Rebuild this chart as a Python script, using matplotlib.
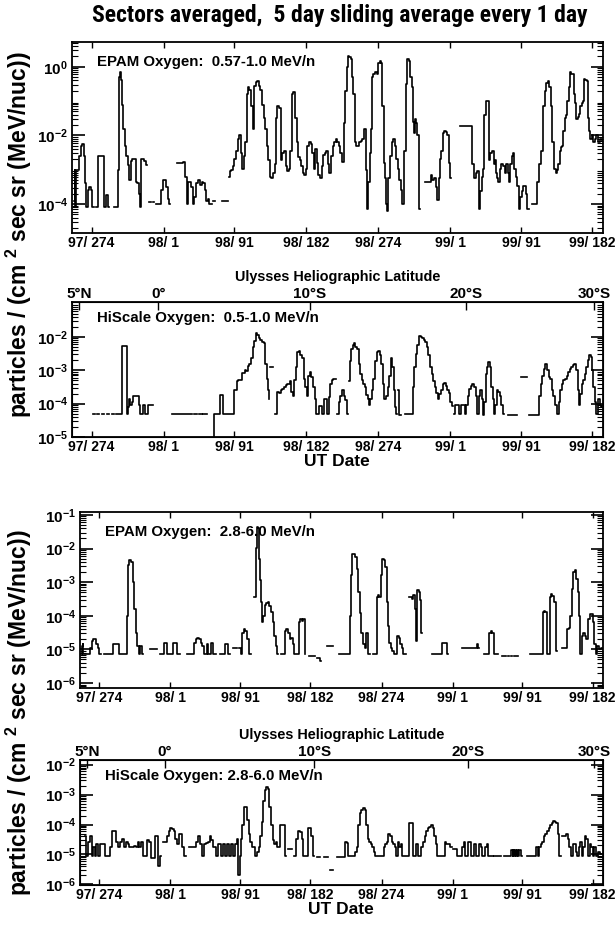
import numpy as np
import matplotlib
matplotlib.use('Agg')
import matplotlib.pyplot as plt
from matplotlib import font_manager
from matplotlib.ticker import LogLocator, NullFormatter

nan = np.nan

plt.rcParams['font.family'] = ['Liberation Sans', 'DejaVu Sans']
plt.rcParams['font.weight'] = 'bold'
plt.rcParams['mathtext.fontset'] = 'custom'
plt.rcParams['mathtext.bf'] = 'Liberation Sans:bold'
plt.rcParams['mathtext.rm'] = 'Liberation Sans:bold'
plt.rcParams['mathtext.default'] = 'bf'

# x axis: day counted from 1997 day 0 (97/274 -> 274, 98/1 -> 366 ...)
date_ticks = [274, 366, 456, 547, 639, 731, 821, 912]
date_labels = ['97/ 274', '98/ 1', '98/ 91', '98/ 182', '98/ 274', '99/ 1', '99/ 91', '99/ 182']
lat_ticks = [258, 359, 552, 751, 914]
lat_labels = ['5°N', '0°', '10°S', '20°S', '30°S']

# (day, log10 flux), nan = gap
epam_lo = [(252, -3.9), (253, -3.0), (254, -4.1), (255, -3.0), (257, -3.0), (259, -2.6), (261, -2.3),
           (263, -2.25), (265, -2.6), (267, -3.4), (268, -4.1), (270, -3.6), (272, -3.5), (274, -3.6),
           (276, -4.1), (277, nan), (281, -4.1), (283, -2.6), (286, -2.6), (289, -2.6), (291, -4.1),
           (293, -3.75), (295, -3.75), (296, -4.1), (297, nan), (307, -4.1), (308, -3.0), (309, -1.5),
           (310, -0.3), (311, -0.16), (312, -0.4), (313, -1.1), (315, -1.8), (317, -2.3), (319, -2.6),
           (321, -2.85), (323, -3.3), (325, -2.75), (327, -2.7), (329, -2.7), (331, -3.35), (333, -3.4),
           (335, -3.7), (336, -4.1), (338, -2.7), (340, -2.7), (342, -2.75), (344, -2.85), (345, nan),
           (348, -3.95), (351, nan), (353, -3.95), (355, nan), (356, -4.0), (358, -4.0), (360, -4.0),
           (362, -4.0), (364, -3.6), (366, -3.3), (368, -3.3), (370, -3.5), (372, -3.85), (374, -4.0),
           (375, nan), (390, -2.8), (392, -2.77), (394, -3.2), (396, -4.0), (398, -3.35), (400, -3.35),
           (402, -3.5), (404, -4.0), (406, -3.8), (409, -3.4), (411, -3.3), (413, -3.45), (415, -3.35),
           (417, -3.4), (419, -3.6), (421, -3.9), (423, -3.85), (425, -4.0), (427, -4.0), (428, nan),
           (430, -3.9), (432, nan), (447, -3.9), (448, nan), (449, -3.2), (451, -3.05), (453, -3.0),
           (455, -2.9), (457, -2.7), (459, -2.45), (461, -2.1), (463, -2.0), (465, -2.5), (467, -2.97),
           (469, -2.6), (471, -2.2), (473, -0.8), (474, -0.6), (476, -0.68), (478, -1.14), (480, -1.8),
           (482, -0.55), (484, -0.45), (486, -0.42), (488, -0.55), (490, -0.68), (492, -1.1), (494, -1.5),
           (496, -1.8), (498, -2.3), (500, -2.71), (502, -3.2), (504, -3.23), (506, -3.1), (508, -2.84),
           (510, -1.5), (511, -1.14), (514, -1.2), (516, -2.71), (518, -2.5), (520, -2.45), (522, -2.9),
           (524, -3.03), (526, -2.97), (528, -2.45), (530, -0.8), (532, -0.75), (534, -1.5), (536, -2.18),
           (538, -2.64), (540, -2.71), (542, -2.9), (544, -3.1), (546, -3.16), (548, -2.97), (550, -2.3),
           (552, -2.2), (554, -2.25), (556, -2.5), (558, -2.97), (560, -2.4), (562, -2.8), (564, -3.16),
           (566, -3.23), (568, -2.9), (570, -2.58), (572, -2.5), (574, -2.45), (576, -2.84), (578, -3.1),
           (580, -2.6), (582, -2.3), (584, -2.2), (586, -2.12), (588, -2.18), (590, -2.3), (592, -2.5),
           (594, -2.77), (596, -1.65), (598, -0.7), (600, 0.0), (601, 0.3), (603, 0.28), (605, 0.24),
           (607, -0.3), (608, -0.8), (610, -2.18), (612, -2.3), (614, -2.31), (616, -2.18), (618, -2.15),
           (620, -2.12), (622, -1.8), (624, -3.0), (625, -4.14), (627, -3.36), (629, -2.5), (630, -1.8),
           (632, -0.3), (634, -0.2), (636, -0.16), (638, -0.22), (640, 0.1), (642, 0.17), (643, 0.1),
           (645, -1.14), (647, -2.8), (648, -3.23), (650, -4.0), (651, -4.2), (653, -3.23), (655, -2.6),
           (657, -2.18), (659, -2.12), (661, -2.3), (663, -2.7), (665, -2.97), (667, -3.3), (669, -3.6),
           (671, -4.01), (673, -2.45), (675, -0.5), (677, 0.24), (679, 0.17), (681, -0.3), (682, -0.6),
           (684, -1.6), (685, -1.93), (686, -1.52), (688, -1.65), (690, -1.99), (692, -4.14), (693, nan),
           (705, -3.36), (707, -3.16), (709, -3.3), (712, -3.23), (714, -3.5), (715, -3.88), (717, -3.23),
           (719, -2.7), (720, -2.45), (722, -1.93), (724, -1.86), (726, -1.9), (728, -1.99), (730, -2.8),
           (731, -3.23), (732, nan), (755, -1.73), (758, -1.73), (760, -2.84), (762, -3.23), (764, -3.1),
           (766, -3.03), (768, -4.14), (770, -3.62), (772, -3.2), (773, -2.97), (775, -1.41), (777, -1.0),
           (779, -1.0), (781, -2.71), (783, -2.5), (785, -2.45), (787, -2.84), (788, -2.71), (790, -3.1),
           (791, -3.23), (793, -3.36), (795, -2.97), (797, -2.84), (799, -2.9), (801, -3.1), (803, -2.84),
           (805, -3.1), (806, -3.36), (808, -2.84), (810, -2.6), (811, -2.51), (813, -2.97), (815, -3.2),
           (817, -3.49), (819, -4.14), (821, -3.8), (823, -3.62), (825, -3.49), (827, -3.49), (828, -3.7),
           (830, -4.14), (831, nan), (840, -4.01), (842, -3.36), (845, -2.84), (848, -2.45), (850, -1.14),
           (852, -0.7), (854, -0.48), (856, -0.42), (858, -0.6), (860, -1.14), (862, -2.18), (864, -2.97),
           (866, -3.1), (867, -3.0), (869, -2.84), (871, -2.45), (873, -2.35), (874, -2.31), (876, -1.86),
           (878, -1.5), (879, -1.41), (881, -1.0), (883, -0.6), (884, -0.16), (886, -0.2), (887, -0.22),
           (889, -0.8), (890, -1.07), (892, -1.52), (894, -1.45), (895, -1.39), (897, -1.14), (899, -1.05),
           (900, -1.0), (902, -0.35), (904, -0.38), (905, -0.42), (907, -1.5), (908, -1.86), (910, -2.12),
           (912, -1.99), (914, -2.18), (916, -2.1), (918, -2.0), (920, -2.2), (922, -2.1), (925, -2.15)]

hiscale_lo = [(276, -4.32), (280, nan), (282, -4.32), (286, nan), (288, -4.32), (292, nan), (294, -4.32),
              (299, nan), (300, -4.32), (305, nan), (306, -4.32), (312, -4.32), (313, -2.28), (316, -2.28),
              (319, -2.28), (320, -4.3), (321, -4.1), (322, -3.86), (324, -4.04), (326, -3.95), (327, -3.77),
              (330, -3.77), (333, -3.77), (335, -4.04), (337, -4.3), (339, -4.3), (341, -4.04), (343, -4.3),
              (345, -4.3), (347, -4.04), (350, -4.04), (352, -4.04), (353, nan), (400, -4.32), (404, nan),
              (406, -4.32), (410, nan), (412, -4.32), (416, nan), (417, -4.32), (421, -4.32), (422, nan),
              (430, -5.2), (431, -4.32), (433, -4.32), (435, -4.32), (437, -4.32), (439, -3.73), (441, -3.73),
              (443, -4.3), (446, -4.3), (449, -4.3), (452, -4.3), (455, -4.3), (457, -3.6), (459, -3.6),
              (460, -3.33), (462, -3.3), (464, -3.29), (466, -3.07), (468, -3.07), (470, -2.98), (472, -3.03),
              (474, -2.88), (476, -2.81), (478, -2.63), (480, -2.3), (482, -2.11), (484, -1.89), (486, -1.95),
              (488, -2.02), (490, -2.1), (492, -2.15), (494, -2.19), (495, -2.28), (496, -2.81), (498, -3.25),
              (499, -3.6), (500, -3.86), (501, nan), (502, -2.91), (505, -2.91), (506, nan), (509, -4.3),
              (512, -3.64), (514, -3.67), (516, -3.6), (518, -3.55), (520, -3.51), (522, -3.45), (524, -3.42),
              (526, -3.4), (527, -3.32), (529, -3.64), (531, -3.77), (533, -3.3), (535, -2.89), (537, -2.46),
              (539, -2.41), (541, -2.55), (543, -2.63), (545, -3.25), (547, -3.51), (549, -3.77), (551, -3.16),
              (553, -3.05), (555, -3.2), (557, -3.5), (559, -3.86), (561, -4.3), (563, -4.3), (565, -4.08),
              (567, -4.08), (569, -4.3), (571, -3.86), (573, -3.86), (575, -4.3), (577, -3.8), (579, -3.42),
              (581, -3.29), (583, -3.25), (585, -3.25), (586, nan), (588, -4.3), (590, -3.95), (592, -3.77),
              (594, -3.6), (596, -3.77), (598, -3.9), (600, -4.3), (601, nan), (603, -3.33), (604, -2.72),
              (606, -2.37), (608, -2.25), (609, -2.19), (611, -2.3), (613, -2.37), (615, -2.81), (617, -3.1),
              (619, -3.3), (621, -3.42), (623, -3.51), (625, -3.73), (627, -3.86), (628, -4.04), (630, -3.86),
              (632, -3.6), (634, -3.25), (636, -2.72), (638, -2.46), (640, -2.41), (642, -2.55), (644, -2.81),
              (646, -3.42), (648, -3.86), (650, -3.77), (652, -3.5), (654, -3.16), (656, -2.63), (658, -2.89),
              (660, -3.6), (661, -4.1), (662, -4.3), (663, nan), (665, -3.6), (667, -4.34), (668, nan),
              (679, -4.3), (682, -4.3), (684, -3.51), (686, -2.89), (688, -2.5), (690, -2.24), (692, -1.97),
              (694, -2.0), (696, -2.02), (698, -2.1), (700, -2.15), (702, -2.3), (704, -2.54), (706, -2.89),
              (708, -3.1), (710, -3.33), (712, -3.5), (714, -3.68), (716, -3.86), (718, -3.7), (720, -3.6),
              (722, -3.42), (724, -3.38), (726, -3.47), (728, -3.6), (730, -3.68), (732, -3.95), (734, -4.08),
              (735, nan), (736, -4.3), (738, -4.04), (741, -4.04), (743, -4.3), (745, -4.04), (748, -4.04),
              (750, -4.3), (752, -4.04), (754, -3.77), (756, -3.55), (758, -3.48), (760, -3.42), (762, -3.51),
              (764, -3.77), (766, -4.3), (768, -3.77), (770, -3.6), (772, -3.86), (773, -4.34), (775, -3.95),
              (777, -3.11), (779, -2.9), (780, -2.76), (782, -2.89), (784, -3.5), (786, -3.86), (787, -4.3),
              (789, -4.04), (791, -3.6), (793, -3.64), (795, -3.77), (797, -4.04), (799, -4.3), (800, nan),
              (810, -4.34), (815, -4.34), (816, nan), (825, -3.2), (828, -3.2), (829, nan), (833, -4.34),
              (836, -4.34), (839, -4.34), (843, -4.34), (845, -3.77), (847, -3.42), (849, -3.16), (851, -2.95),
              (853, -2.8), (855, -3.0), (857, -3.2), (859, -3.25), (861, -3.6), (863, -3.77), (865, -4.04),
              (868, -4.3), (870, -3.95), (872, -3.6), (874, -3.4), (876, -3.29), (878, -3.25), (880, -3.16),
              (882, -3.05), (884, -2.95), (886, -2.9), (888, -2.85), (890, -2.8), (892, -3.0), (894, -3.6),
              (895, -4.04), (897, -3.7), (899, -3.42), (901, -3.3), (903, -3.11), (905, -2.9), (907, -2.7),
              (909, -2.55), (911, -2.6), (912, -3.0), (914, -3.5), (916, -3.95), (918, -4.3), (920, -3.86),
              (922, -4.04), (924, -4.1)]

epam_hi = [(251, -5.15), (252, -4.9), (253, -4.85), (254, -5.15), (256, -5.15), (258, -5.15), (261, -5.15),
           (263, -4.95), (265, -4.75), (267, -4.7), (269, -4.7), (271, -4.85), (273, -4.95), (275, -5.15),
           (277, nan), (283, -5.15), (286, -5.15), (289, -5.15), (291, -5.15), (293, -4.85), (295, -4.85),
           (298, -4.85), (300, -5.15), (303, -5.15), (306, -5.15), (309, -5.15), (310, -4.0), (311, -3.0),
           (312, -2.5), (314, -2.35), (316, -2.4), (318, -3.0), (320, -3.8), (322, -4.5), (324, -4.9),
           (326, -5.15), (328, -4.9), (330, -5.15), (331, nan), (348, -5.0), (350, nan), (354, -5.15),
           (357, -5.15), (359, -4.8), (361, -4.8), (363, -5.15), (366, -5.15), (368, -5.15), (370, -4.8),
           (373, -4.8), (375, -5.15), (378, -5.15), (379, nan), (396, -5.15), (398, -4.8), (400, -4.7),
           (402, -4.65), (404, -4.7), (406, -4.8), (408, -4.9), (410, -5.15), (412, -5.15), (414, -4.85),
           (416, -5.15), (418, -5.15), (420, -4.8), (422, -5.15), (424, -5.15), (425, nan), (436, -5.15),
           (438, -4.85), (440, -4.85), (442, -5.15), (443, nan), (451, -4.95), (454, nan), (456, -4.95),
           (458, -5.15), (460, -4.5), (462, -4.4), (464, -4.45), (466, -4.7), (468, -5.15), (470, -5.15),
           (471, nan), (476, -3.43), (477, -1.97), (478, -1.35), (479, -1.35), (480, -1.4), (481, -2.3),
           (482, -2.94), (484, -3.6), (485, -4.2), (487, -4.0), (489, -3.67), (491, -3.62), (493, -3.6),
           (495, -3.7), (497, -3.9), (499, -4.2), (501, -4.6), (503, -4.9), (505, -5.15), (506, nan),
           (512, -5.15), (514, -5.15), (515, -4.45), (517, -4.4), (519, -4.5), (521, -4.7), (523, -4.65),
           (525, -4.85), (527, -5.15), (529, -5.15), (531, -5.15), (533, -4.2), (535, -4.1), (537, -4.15),
           (539, -4.1), (540, -5.15), (541, nan), (549, -5.2), (552, -5.2), (553, nan), (558, -5.25),
           (560, -5.35), (561, nan), (575, -4.9), (578, nan), (590, -5.15), (594, -5.15), (597, -5.15),
           (599, -4.0), (600, -2.8), (602, -2.17), (604, -2.17), (606, -2.26), (608, -2.6), (610, -3.3),
           (612, -3.91), (614, -4.5), (616, -4.85), (618, -4.95), (619, -4.5), (621, -4.5), (623, -5.15),
           (624, nan), (632, -5.15), (633, -3.43), (635, -3.38), (637, -3.43), (639, -2.8), (641, -2.31),
           (643, -2.35), (645, -2.55), (646, -3.6), (648, -4.3), (650, -4.8), (652, -4.95), (654, -5.05),
           (656, -5.15), (658, -5.15), (660, -4.6), (662, -4.65), (664, -4.85), (666, -4.95), (668, -5.15),
           (670, -5.15), (671, nan), (677, -3.43), (679, -3.5), (681, -3.38), (683, -3.8), (684, -4.75),
           (686, -3.23), (688, -3.28), (689, -3.52), (690, -4.3), (691, -4.5), (692, nan), (716, -5.15),
           (718, -4.8), (721, -4.8), (723, -4.8), (725, -5.15), (726, nan), (761, -4.95), (763, -4.85),
           (765, -4.95), (766, nan), (776, -5.15), (779, -4.5), (781, -4.45), (783, -4.5), (785, -5.15),
           (789, -5.15), (790, nan), (799, -5.2), (801, nan), (803, -5.2), (805, nan), (807, -5.2),
           (809, nan), (811, -5.2), (815, -5.2), (816, nan), (847, -5.15), (848, -3.9), (850, -3.85),
           (852, -3.9), (854, -5.15), (856, -5.15), (857, -3.45), (859, -3.35), (861, -3.4), (863, -3.6),
           (865, -5.05), (866, nan), (878, -4.95), (880, -4.4), (882, -4.35), (884, -4.0), (886, -3.2),
           (888, -2.7), (890, -2.65), (892, -2.9), (894, -3.3), (895, -4.0), (897, -5.15), (899, -4.6),
           (901, -4.5), (903, -4.6), (905, -4.7), (907, -4.1), (909, -3.95), (911, -3.95), (913, -4.2),
           (915, -4.85), (917, -5.15), (919, -4.9), (921, -5.0), (924, -4.95)]

hiscale_hi = [(256, -4.39), (258, -5.06), (260, -4.57), (263, -4.39), (265, -5.06), (267, -4.75), (269, -5.06),
              (271, -4.66), (273, -5.06), (276, -4.66), (280, -4.66), (283, -5.06), (287, -5.06), (289, -4.75),
              (291, -4.21), (293, -4.21), (295, -4.21), (297, -4.57), (299, -4.75), (302, -4.57), (304, -4.48),
              (307, -4.75), (309, -4.57), (312, -4.66), (314, -4.75), (317, -4.75), (320, -4.7), (322, -4.75),
              (325, -4.57), (327, -4.75), (330, -4.57), (332, -5.06), (335, -5.06), (337, -4.52), (340, -4.57),
              (342, -5.11), (345, -5.11), (347, -4.39), (350, -4.39), (351, -5.4), (353, -5.06), (355, nan),
              (357, -4.57), (360, -4.57), (363, -4.39), (365, -4.21), (367, -4.12), (369, -4.15), (371, -4.21),
              (373, -4.48), (375, -4.66), (378, -4.3), (380, -4.3), (383, -4.75), (385, -5.06), (386, nan),
              (393, -4.75), (396, -4.75), (398, -4.75), (400, -4.57), (403, -4.39), (405, -4.66), (408, -5.06),
              (410, -4.66), (413, -4.6), (416, -4.57), (418, -4.39), (420, -4.52), (423, -4.75), (426, -5.06),
              (428, -4.66), (431, -4.66), (433, -5.06), (436, -4.66), (438, -5.06), (441, -4.66), (443, -5.06),
              (446, -4.66), (448, -5.06), (451, -4.66), (453, -4.48), (455, -5.7), (456, -5.06), (458, -4.48),
              (460, -4.0), (461, -3.4), (464, -3.4), (466, -3.85), (468, -4.3), (470, -4.57), (472, -4.75),
              (474, -4.75), (476, -5.06), (479, -4.93), (481, -4.75), (483, -4.39), (485, -3.9), (487, -3.2),
              (489, -2.86), (491, -2.75), (493, -2.81), (495, -3.4), (497, -4.03), (499, -4.5), (501, -4.66),
              (503, -4.57), (505, -4.75), (507, -4.75), (509, -4.03), (511, -4.03), (513, -4.03), (515, -5.06),
              (516, nan), (521, -4.82), (523, -4.82), (524, nan), (527, -5.06), (530, -4.48), (532, -4.21),
              (535, -4.25), (537, -4.48), (539, -5.06), (542, -5.06), (545, -4.12), (547, -4.12), (549, -4.39),
              (551, -5.06), (552, nan), (558, -5.09), (562, nan), (566, -5.09), (569, -5.09), (570, nan),
              (575, -5.51), (577, nan), (585, -5.09), (588, -5.09), (591, -5.09), (593, -4.57), (595, -4.61),
              (597, -5.06), (600, -5.06), (603, -5.06), (606, -4.9), (608, -4.75), (610, -4.03), (612, -3.6),
              (614, -3.53), (616, -3.44), (618, -3.5), (620, -4.03), (622, -4.48), (624, -4.57), (626, -4.66),
              (628, -4.75), (630, -4.9), (632, -5.06), (635, -5.06), (638, -5.06), (641, -5.06), (643, -4.75),
              (645, -4.66), (647, -4.57), (649, -4.3), (651, -4.39), (653, -4.57), (655, -4.66), (657, -4.75),
              (659, -5.06), (661, -4.57), (663, -4.75), (665, -4.66), (667, -5.06), (669, -5.06), (671, -5.06),
              (673, -5.06), (675, -3.94), (677, -3.94), (679, -3.94), (681, -5.06), (683, -5.06), (685, -4.66),
              (687, -5.06), (689, -5.06), (692, -4.75), (694, -4.57), (696, -4.39), (698, -4.21), (700, -4.12),
              (702, -4.07), (704, -4.03), (706, -4.12), (708, -4.39), (710, -4.66), (712, -5.06), (714, -5.06),
              (716, -5.06), (719, -5.06), (722, -4.57), (724, -4.66), (727, -4.66), (729, -4.75), (731, nan),
              (733, -4.8), (736, -4.8), (738, -5.06), (741, -5.06), (744, -4.75), (746, -4.57), (748, -5.06),
              (750, -5.06), (752, -4.57), (754, -4.57), (756, -5.06), (758, -5.06), (760, -4.66), (762, -5.06),
              (764, -5.06), (766, -4.66), (768, -4.75), (770, -5.06), (772, -5.06), (774, -4.75), (776, -4.66),
              (778, -5.06), (780, -5.06), (782, -5.06), (783, nan), (787, -5.06), (793, -5.06), (794, nan),
              (802, -5.06), (806, -5.06), (808, -4.84), (809, -5.06), (810, -4.84), (811, -5.06), (812, -4.84),
              (813, -5.06), (815, -4.84), (816, -5.06), (818, -4.84), (820, -5.06), (821, nan), (833, -5.06),
              (836, -5.06), (838, -5.06), (840, -4.75), (842, -5.06), (844, -4.75), (846, -4.66), (848, -4.57),
              (850, -4.39), (852, -4.3), (854, -4.21), (856, -4.1), (858, -4.03), (860, -3.94), (862, -3.89),
              (864, -3.9), (866, -3.94), (868, -4.3), (870, -5.06), (871, nan), (875, -4.39), (877, -4.39),
              (879, -4.3), (881, -4.48), (883, -4.75), (885, -5.06), (887, -4.66), (889, -4.66), (891, -4.93),
              (893, -5.06), (895, -4.75), (897, -4.57), (899, -5.06), (901, -4.75), (903, -4.39), (905, -4.48),
              (907, -5.06), (909, -4.66), (911, -4.75), (913, -5.06), (915, -4.75), (917, -5.06), (920, -4.9),
              (923, -5.0)]

panels = [
    # series, label, y range (log10), y tick exponents, axes box, latitude axis
    (epam_lo, 'EPAM Oxygen:  0.57-1.0 MeV/n', (-4.85, 0.72), [0, -2, -4], [0.117, 0.748, 0.863, 0.2065], False),
    (hiscale_lo, 'HiScale Oxygen:  0.5-1.0 MeV/n', (-5.0, -0.95), [-2, -3, -4, -5], [0.117, 0.5276, 0.863, 0.146], True),
    (epam_hi, 'EPAM Oxygen:  2.8-6.0 MeV/n', (-6.15, -0.92), [-1, -2, -3, -4, -5, -6], [0.130, 0.2562, 0.850, 0.190], False),
    (hiscale_hi, 'HiScale Oxygen: 2.8-6.0 MeV/n', (-6.02, -1.85), [-2, -3, -4, -5, -6], [0.130, 0.0432, 0.850, 0.135], True),
]

fig = plt.figure(figsize=(6.15, 9.25), dpi=100)

for pts, label, yr, yexp, box, lat in panels:
    ax = fig.add_axes(box)
    d, v = np.array(pts, dtype=float).T
    ax.plot(d, 10 ** v, color='k', lw=1.2, drawstyle='steps-mid')
    ax.set_yscale('log')
    ax.set_xlim(249, 925)
    ax.set_ylim(10 ** yr[0], 10 ** yr[1])
    ax.set_yticks([10.0 ** e for e in yexp])
    ax.set_yticklabels([r'$10^{%d}$' % e for e in yexp], fontsize=11)
    ax.yaxis.set_minor_locator(LogLocator(base=10, subs=np.arange(2, 10), numticks=20))
    ax.yaxis.set_minor_formatter(NullFormatter())
    ax.set_xticks(date_ticks)
    ax.set_xticklabels(date_labels, fontsize=10, fontweight='bold')
    ax.tick_params(axis='y', which='major', direction='in', length=9, width=1.2, right=True, pad=3)
    ax.tick_params(axis='y', which='minor', direction='in', length=4, width=0.8, right=True)
    ax.tick_params(axis='x', which='major', direction='in', length=4, width=1, top=not lat, pad=2)
    for s in ax.spines.values():
        s.set_linewidth(1.3)
    ax.text(0.047, 0.93, label, transform=ax.transAxes, fontsize=10.8, fontweight='bold',
            ha='left', va='top')
    if lat:
        top = ax.twiny()
        top.set_xlim(ax.get_xlim())
        top.set_xticks(lat_ticks)
        top.set_xticklabels(lat_labels, fontsize=11, fontweight='bold')
        top.tick_params(axis='x', direction='in', length=6, width=1, pad=1)
        top.set_xlabel('Ulysses Heliographic Latitude', fontsize=10.4, fontweight='bold', labelpad=4)
        ax.set_xlabel('UT Date', fontsize=12.5, fontweight='bold', labelpad=0)

# condensed face for the title if one is installed
names = {f.name for f in font_manager.fontManager.ttflist}
title_font, title_size = 'Liberation Sans', 12.8
for fam, size in [('Liberation Sans Narrow', 17.5), ('Roboto Condensed', 17), ('DejaVu Sans Condensed', 15)]:
    if fam in names:
        title_font, title_size = fam, size
        break
fig.text(0.553, 0.983, 'Sectors averaged,  5 day sliding average every 1 day',
         ha='center', va='center', fontsize=title_size, fontweight='bold', family=title_font)

ylab = 'particles / (cm $^{2}$ sec sr (MeV/nuc))'
fig.text(0.03, 0.746, ylab, rotation=90, ha='center', va='center', fontsize=16.5, fontweight='bold')
fig.text(0.03, 0.230, ylab, rotation=90, ha='center', va='center', fontsize=16.5, fontweight='bold')

fig.savefig('out.png', dpi=100)
